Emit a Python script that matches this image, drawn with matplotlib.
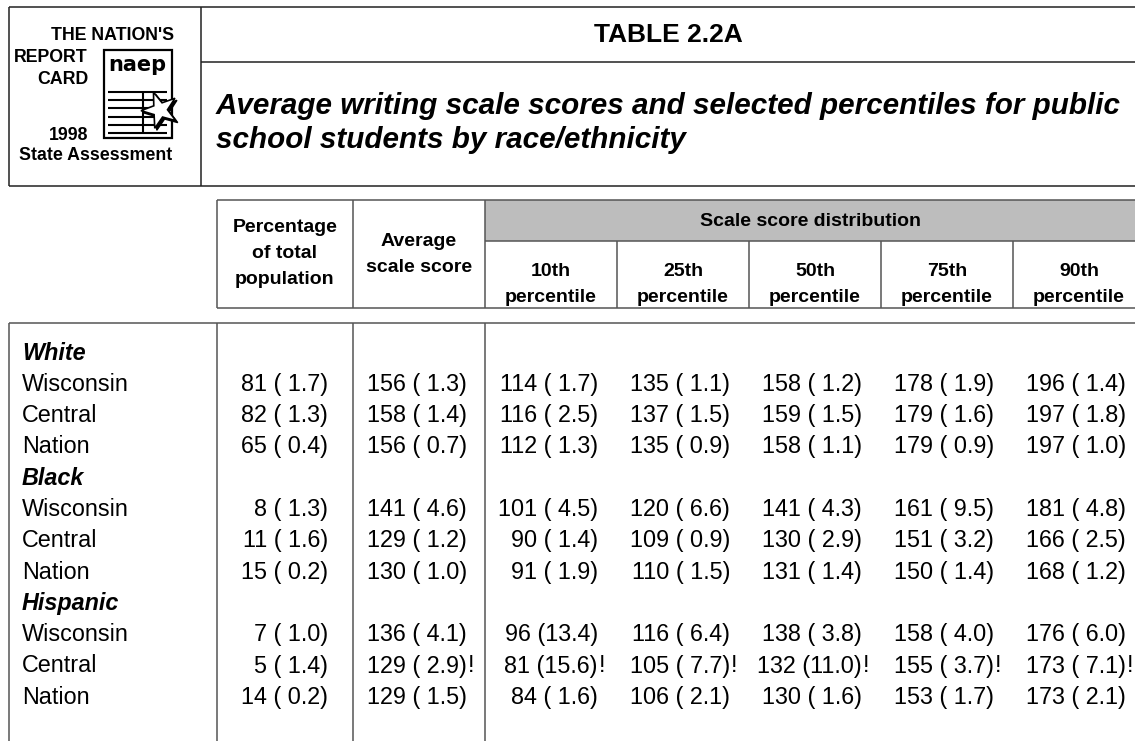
import matplotlib.pyplot as plt
from matplotlib.patches import Rectangle, Polygon
import numpy as np

groups = ['White', 'Black', 'Hispanic']
places = ['Wisconsin', 'Central', 'Nation']

pct = [81, 82, 65, 8, 11, 15, 7, 5, 14]
pct_se = [1.7, 1.3, 0.4, 1.3, 1.6, 0.2, 1.0, 1.4, 0.2]
avg = [156, 158, 156, 141, 129, 130, 136, 129, 129]
avg_se = [1.3, 1.4, 0.7, 4.6, 1.2, 1.0, 4.1, 2.9, 1.5]
p10 = [114, 116, 112, 101, 90, 91, 96, 81, 84]
p10_se = [1.7, 2.5, 1.3, 4.5, 1.4, 1.9, 13.4, 15.6, 1.6]
p25 = [135, 137, 135, 120, 109, 110, 116, 105, 106]
p25_se = [1.1, 1.5, 0.9, 6.6, 0.9, 1.5, 6.4, 7.7, 2.1]
p50 = [158, 159, 158, 141, 130, 131, 138, 132, 130]
p50_se = [1.2, 1.5, 1.1, 4.3, 2.9, 1.4, 3.8, 11.0, 1.6]
p75 = [178, 179, 179, 161, 151, 150, 158, 155, 153]
p75_se = [1.9, 1.6, 0.9, 9.5, 3.2, 1.4, 4.0, 3.7, 1.7]
p90 = [196, 197, 197, 181, 166, 168, 176, 173, 173]
p90_se = [1.4, 1.8, 1.0, 4.8, 2.5, 1.2, 6.0, 7.1, 2.1]
# rows where the standard error is flagged with "!"
flagged = [False, False, False, False, False, False, False, True, False]

pct_labels = ['10th', '25th', '50th', '75th', '90th']

W, H = 1135, 741
fig = plt.figure(figsize=(W / 100, H / 100), dpi=100)
ax = fig.add_axes([0, 0, 1, 1])
ax.set_xlim(0, W)
ax.set_ylim(H, 0)
ax.axis('off')

FONT = 'Liberation Sans'


def line(x, y, c='#333333', lw=1.1):
    ax.plot(x, y, color=c, lw=lw, solid_capstyle='butt')


# ---- title panel ----
dark = '#222222'
line([9, W], [7, 7], dark)
line([9, W], [186, 186], dark)
line([9, 9], [7, 186], dark)
line([201, 201], [7, 186], dark)
line([201, W], [62, 62], dark)

ax.text(668, 35, 'TABLE 2.2A', family=FONT, weight='bold', fontsize=19,
        ha='center', va='center')
ax.text(216, 106, 'Average writing scale scores and selected percentiles for public',
        family=FONT, weight='bold', style='italic', fontsize=21.3, ha='left', va='center')
ax.text(216, 140, 'school students by race/ethnicity',
        family=FONT, weight='bold', style='italic', fontsize=21.3, ha='left', va='center')

# logo
lk = dict(family=FONT, weight='bold', fontsize=12.8, va='center', color='black')
ax.text(174, 35, "THE NATION'S", ha='right', **lk)
ax.text(88, 57, 'REPORT', ha='right', **lk)
ax.text(88, 79, 'CARD', ha='right', **lk)
ax.text(88, 135, '1998', ha='right', **lk)
ax.text(96, 155, 'State Assessment', ha='center', **lk)
ax.add_patch(Rectangle((104, 50), 68, 88, fill=False, ec='black', lw=1.6))
ax.text(137, 65, 'naep', family='DejaVu Sans', weight='heavy', fontsize=15,
        ha='center', va='center')
for yy in [92, 100, 108, 117, 125, 133]:
    line([108, 167], [yy, yy], 'black', 1.5)
line([143, 143], [92, 133], 'black', 1.5)
ang = np.linspace(np.pi / 2, np.pi / 2 + 2 * np.pi, 11)[:-1] + 0.35
rad = np.where(np.arange(10) % 2 == 0, 19, 7.5)
star = np.column_stack([160 + rad * np.cos(ang), 110 - rad * np.sin(ang)])
ax.add_patch(Polygon(star + [2, 2], closed=True, fc='black', ec='black', zorder=3))
ax.add_patch(Polygon(star, closed=True, fc='white', ec='black', lw=1.2, zorder=4))

# ---- column header ----
tab = '#555555'
ax.add_patch(Rectangle((485, 200), W - 485, 41, fc='#bdbdbd', ec='none'))
line([217, W], [200, 200], tab)
line([485, W], [241, 241], tab)
line([217, W], [308, 308], tab)
for xx in [217, 353, 485]:
    line([xx, xx], [200, 308], tab)
col_edges = [485, 617, 749, 881, 1013, 1145]
for xx in col_edges[1:-1]:
    line([xx, xx], [241, 308], tab)

hk = dict(family=FONT, weight='bold', fontsize=14, ha='center', va='center')
ax.text(285, 228, 'Percentage', **hk)
ax.text(285, 254, 'of total', **hk)
ax.text(285, 280, 'population', **hk)
ax.text(419, 242, 'Average', **hk)
ax.text(419, 268, 'scale score', **hk)
ax.text(810, 221, 'Scale score distribution', **hk)
for k, lab in enumerate(pct_labels):
    cx = (col_edges[k] + col_edges[k + 1]) / 2
    ax.text(cx, 271, lab, **hk)
    ax.text(cx, 297, 'percentile', **hk)

# ---- body ----
line([9, W], [323, 323], tab)
for xx in [9, 217, 353, 485]:
    line([xx, xx], [323, H], tab)

bk = dict(family=FONT, fontsize=16.8, va='center')
y0, dy = 353, 31.3


def cell(x_right, y, v, se, flag):
    ax.text(x_right, y, f'{v} ({se:4.1f})', ha='right', **bk)
    if flag:
        ax.text(x_right + 1, y, '!', ha='left', **bk)


columns = [(avg, avg_se), (p10, p10_se), (p25, p25_se), (p50, p50_se),
           (p75, p75_se), (p90, p90_se)]
col_right = [467] + [e - 19 for e in col_edges[1:]]

row = 0
for g, grp in enumerate(groups):
    ax.text(22, y0 + row * dy, grp, family=FONT, weight='bold', style='italic',
            fontsize=16.8, va='center')
    row += 1
    for j, place in enumerate(places):
        i = g * 3 + j
        y = y0 + row * dy
        ax.text(22, y, place, ha='left', **bk)
        cell(328, y, pct[i], pct_se[i], False)
        for (vals, ses), xr in zip(columns, col_right):
            cell(xr, y, vals[i], ses[i], flagged[i])
        row += 1

fig.savefig('out.png', dpi=100)
